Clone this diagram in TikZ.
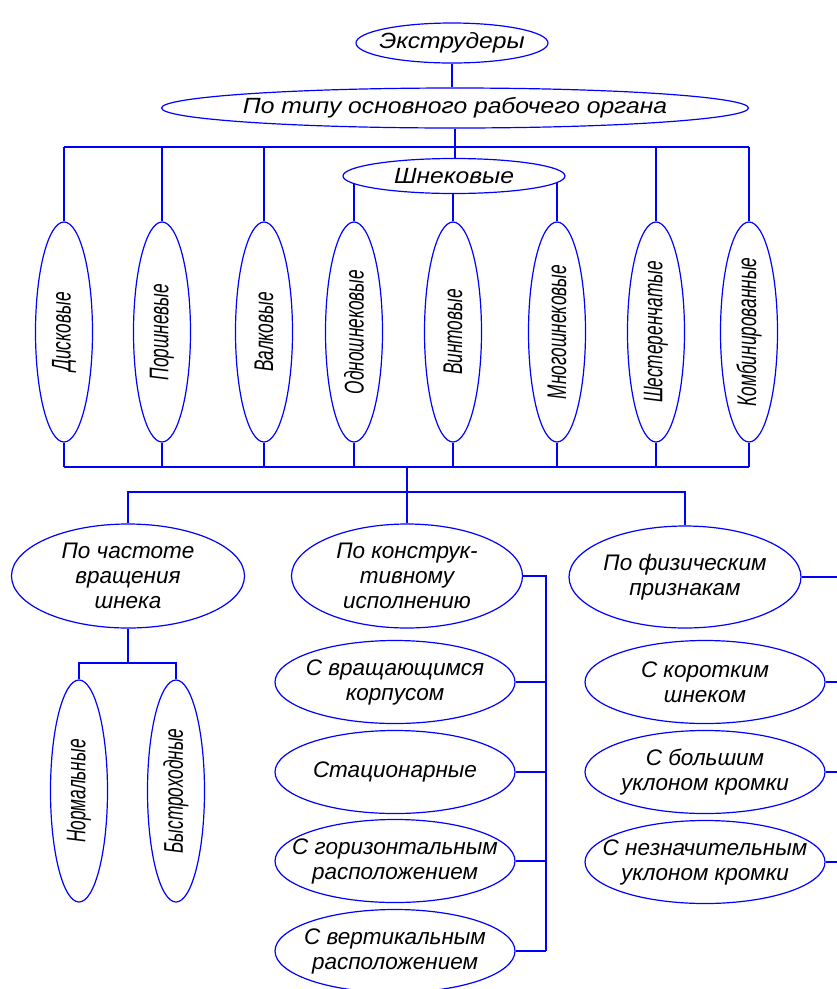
\documentclass[tikz,border=0pt]{standalone}
\usepackage{fontspec}
\setmainfont{Liberation Sans}
\newfontfamily\vfont{Liberation Sans}[FakeStretch=0.64]
\newfontfamily\tfont{Liberation Sans}[FakeStretch=1.12]
\usetikzlibrary{shapes.geometric}
\pgfdeclarelayer{bg}
\pgfsetlayers{bg,main}
\begin{document}
\begin{tikzpicture}[x=1pt,y=-1pt,
  conn/.style={draw=blue, line width=1.4pt},
  ov/.style={ellipse, draw=blue, line width=1.2pt, fill=white, inner sep=0pt},
  lblf/.style={font=\fontsize{22.5}{25}\selectfont\itshape, align=center, text=black, inner sep=0pt},
  lbls/.style={font=\tfont\fontsize{22}{24}\selectfont\itshape, align=center, text=black, inner sep=0pt},
  lbl/.style={label={[lblf]center:{#1}}},
  lbltop/.style={label={[lbls]center:{#1}}},
  vov/.style={ov, rotate=90, minimum width=220pt, minimum height=57pt, text=black,
    font=\vfont\fontsize{27}{30}\selectfont\itshape},
  hov/.style={ov, minimum width=240pt, minimum height=83pt},
]
\useasboundingbox (0,0) rectangle (837,989);

% top level
\node[ov, minimum width=192pt, minimum height=40pt, lbltop={Экструдеры}] (root) at (452,43) {};
\node[ov, minimum width=587pt, minimum height=40pt, lbltop={По типу основного рабочего органа}] (type) at (455,108) {};
\node[ov, minimum width=222pt, minimum height=35pt, lbltop={Шнековые}] (shnek) at (454,176) {};

% working organ types
\node[vov] (v1) at (64,332) {Дисковые};
\node[vov] (v2) at (162,332) {Поршневые};
\node[vov] (v3) at (264,332) {Валковые};
\node[vov] (v4) at (354,332) {Одношнековые};
\node[vov] (v5) at (453,332) {Винтовые};
\node[vov] (v6) at (557,332) {Многошнековые};
\node[vov] (v7) at (656,332) {Шестеренчатые};
\node[vov] (v8) at (749,332) {Комбинированные};

% second level
\node[ov, minimum width=233pt, minimum height=104pt, lbl={По частоте\\вращения\\шнека}] (c1) at (128,576) {};
\node[ov, minimum width=231pt, minimum height=104pt, lbl={По конструк-\\тивному\\исполнению}] (c2) at (407,576) {};
\node[ov, minimum width=232pt, minimum height=102pt, lbl={По физическим\\признакам}] (c3) at (685,577) {};

% rotation speed
\node[vov, minimum width=222pt] (n1) at (79,791) {Нормальные};
\node[vov, minimum width=222pt] (n2) at (176,791) {Быстроходные};

% construction
\node[hov, lbl={С вращающимся\\корпусом}] (d1) at (395,682) {};
\node[hov, lbl={Стационарные}] (d2) at (395,772) {};
\node[hov, lbl={С горизонтальным\\расположением}] (d3) at (395,861) {};
\node[hov, lbl={С вертикальным\\расположением}] (d4) at (395,951) {};

% physical
\node[hov, lbl={С коротким\\шнеком}] (e1) at (705,682) {};
\node[hov, lbl={С большим\\уклоном кромки}] (e2) at (705,772) {};
\node[hov, lbl={С незначительным\\уклоном кромки}] (e3) at (705,862) {};

\coordinate (b1) at (455,147);
\coordinate (b2) at (407,467);
\coordinate (b3) at (407,492);
\coordinate (b4) at (128,663);
\coordinate (s1) at (546,576);
\coordinate (redge) at (845,0);

\begin{pgfonlayer}{bg}
\draw[conn] (root.south) -- (root.south |- type.north);
\draw[conn] (type.south) -- (type.south |- shnek.north);
\draw[conn] (v1.east |- b1) -- (v8.east |- b1);
\foreach \v in {v1,v2,v3,v7,v8} \draw[conn] (\v.east |- b1) -- (\v.east);
\foreach \v in {v4,v5,v6} \draw[conn] (\v.east) -- (\v.east |- shnek.center);
\foreach \v in {v1,v2,v3,v4,v5,v6,v7,v8} \draw[conn] (\v.west) -- (\v.west |- b2);
\draw[conn] (v1.west |- b2) -- (v8.west |- b2);
\draw[conn] (b2) -- (c2.north);
\draw[conn] (c1.north) -- (c1.north |- b3) -- (c3.north |- b3) -- (c3.north);
\draw[conn] (c1.south) -- (b4);
\draw[conn] (n1.east) -- (n1.east |- b4) -- (n2.east |- b4) -- (n2.east);
\draw[conn] (c2.east) -- (c2.east -| s1) -- (s1 |- d4.east);
\foreach \d in {d1,d2,d3,d4} \draw[conn] (\d.east) -- (\d.east -| s1);
\foreach \e in {c3,e1,e2,e3} \draw[conn] (\e.east) -- (\e.east -| redge);
\end{pgfonlayer}
\end{tikzpicture}
\end{document}
